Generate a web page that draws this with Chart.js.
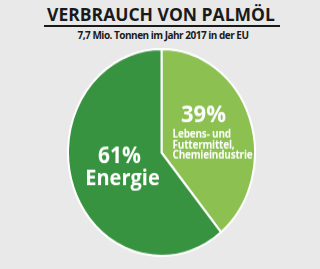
<!DOCTYPE html>
<html>
<head>
<meta charset="utf-8">
<script src="https://cdn.jsdelivr.net/npm/chart.js@4"></script>
<style>
  html, body { margin: 0; padding: 0; }
  body { width: 320px; height: 269px; background: #e9e9e9; position: relative; overflow: hidden; font-family: "Open Sans", sans-serif; }
  #title { position: absolute; left: 1px; width: 320px; top: 2px; text-align: center; font-weight: 700; font-size: 17.5px; color: #1a1a1a; }
  #rule { position: absolute; left: 44px; width: 236px; top: 25px; height: 2px; background: #1a1a1a; }
  #sub { position: absolute; left: 3px; width: 320px; top: 28px; text-align: center; font-weight: 700; font-size: 10px; letter-spacing: -0.5px; color: #1a1a1a; }
  #wrap { position: absolute; left: 67px; top: 48px; width: 189px; height: 189px; transform: scaleY(1.106); transform-origin: top left; }
</style>
</head>
<body>
<div id="title">VERBRAUCH VON PALMÖL</div>
<div id="rule"></div>
<div id="sub">7,7 Mio. Tonnen im Jahr 2017 in der EU</div>
<div id="wrap"><canvas id="pie" width="189" height="189"></canvas></div>
<script>
// ===== Daten =====
const categories = ['Lebens- und Futtermittel, Chemieindustrie', 'Energie'];
const shares = [39, 61];
const sliceLines = [['Lebens- und', 'Futtermittel,', 'Chemieindustrie'], ['Energie']];
const sliceColors = ['#8cc152', '#37933f'];

// Beschriftung in den Segmenten
const sliceLabels = {
    id: 'sliceLabels',
    afterDraw(chart) {
        const ctx = chart.ctx;
        const meta = chart.getDatasetMeta(0);
        const cx = meta.data[0].x, cy = meta.data[0].y;
        ctx.save();
        ctx.fillStyle = '#ffffff';
        ctx.textBaseline = 'middle';

        // 39%
        ctx.textAlign = 'center';
        ctx.font = 'bold 22px "Open Sans"';
        ctx.fillText(shares[0] + '%', cx + 42, cy - 34);
        ctx.textAlign = 'left';
        ctx.font = 'bold 10px "Open Sans"';
        ctx.letterSpacing = '-0.2px';
        sliceLines[0].forEach((t, i) => ctx.fillText(t, cx + 11, cy - 16 + i * 9.5));
        ctx.letterSpacing = '0px';

        // 61%
        ctx.textAlign = 'center';
        ctx.font = 'bold 21px "Open Sans"';
        ctx.fillText(shares[1] + '%', cx - 42, cy + 4);
        ctx.font = 'bold 20px "Open Sans"';
        ctx.fillText(sliceLines[1][0], cx - 39, cy + 24);
        ctx.restore();
    }
};

new Chart(document.getElementById('pie'), {
    type: 'pie',
    data: {
        labels: categories,
        datasets: [{
            data: shares,
            backgroundColor: sliceColors,
            borderColor: '#ffffff',
            borderWidth: 2
        }]
    },
    options: {
        responsive: false,
        animation: false,
        layout: { padding: 0 },
        plugins: { legend: { display: false }, tooltip: { enabled: false } }
    },
    plugins: [sliceLabels]
});
</script>
</body>
</html>
